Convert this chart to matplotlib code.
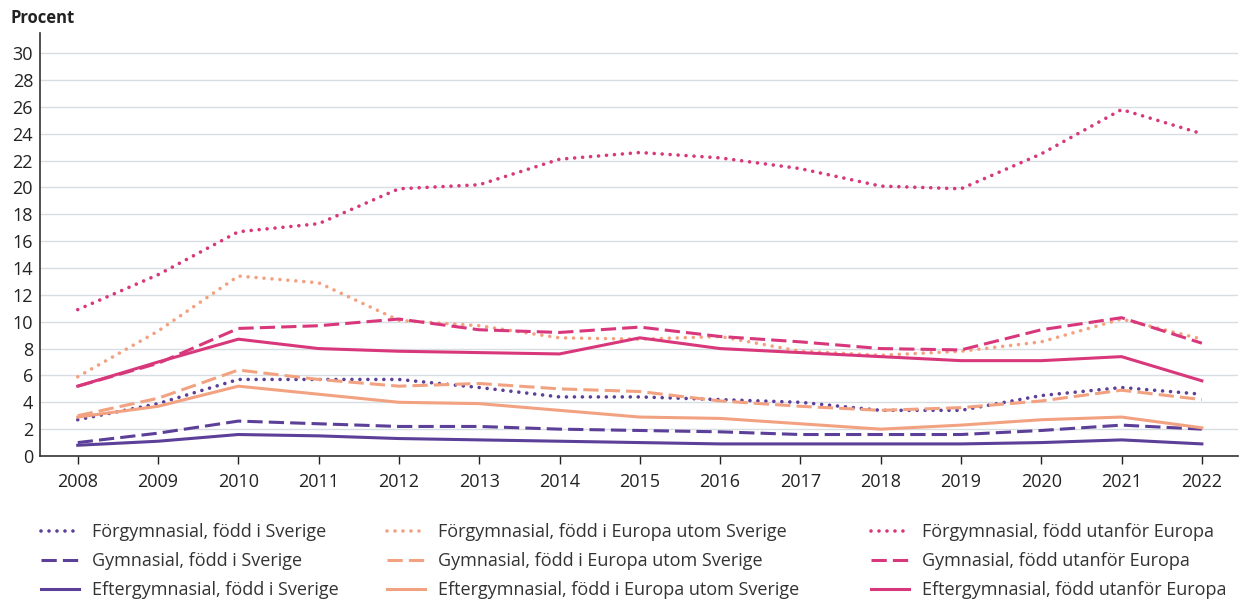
import matplotlib.pyplot as plt
from matplotlib.lines import Line2D

plt.rcParams['font.family'] = ['Open Sans', 'DejaVu Sans']

years = list(range(2008, 2023))

# Förgymnasial / Gymnasial / Eftergymnasial, per födelseregion
forg_sverige = [2.7, 3.9, 5.7, 5.7, 5.7, 5.1, 4.4, 4.4, 4.2, 4.0, 3.4, 3.4, 4.5, 5.1, 4.6]
gym_sverige = [1.0, 1.7, 2.6, 2.4, 2.2, 2.2, 2.0, 1.9, 1.8, 1.6, 1.6, 1.6, 1.9, 2.3, 2.0]
efter_sverige = [0.8, 1.1, 1.6, 1.5, 1.3, 1.2, 1.1, 1.0, 0.9, 0.9, 0.9, 0.9, 1.0, 1.2, 0.9]

forg_europa = [5.9, 9.3, 13.4, 12.9, 10.1, 9.7, 8.8, 8.7, 8.9, 7.8, 7.5, 7.8, 8.5, 10.2, 8.7]
gym_europa = [3.0, 4.3, 6.4, 5.7, 5.2, 5.4, 5.0, 4.8, 4.1, 3.7, 3.4, 3.6, 4.1, 4.9, 4.2]
efter_europa = [2.9, 3.7, 5.2, 4.6, 4.0, 3.9, 3.4, 2.9, 2.8, 2.4, 2.0, 2.3, 2.7, 2.9, 2.1]

forg_utanfor = [10.9, 13.5, 16.7, 17.3, 19.9, 20.2, 22.1, 22.6, 22.2, 21.4, 20.1, 19.9, 22.5, 25.8, 24.0]
gym_utanfor = [5.2, 6.9, 9.5, 9.7, 10.2, 9.4, 9.2, 9.6, 8.9, 8.5, 8.0, 7.9, 9.4, 10.3, 8.4]
efter_utanfor = [5.2, 7.0, 8.7, 8.0, 7.8, 7.7, 7.6, 8.8, 8.0, 7.7, 7.4, 7.1, 7.1, 7.4, 5.6]

lila = '#5c3f98'
orange = '#f2a281'
rosa = '#d8387b'

styles = {'forg': (0, (0.01, 2.2)), 'gym': (0, (5, 2)), 'efter': '-'}
widths = {'forg': 2.6, 'gym': 2.2, 'efter': 2.2}

grupper = [
    ('född i Sverige', lila, [forg_sverige, gym_sverige, efter_sverige]),
    ('född i Europa utom Sverige', orange, [forg_europa, gym_europa, efter_europa]),
    ('född utanför Europa', rosa, [forg_utanfor, gym_utanfor, efter_utanfor]),
]
niva = [('Förgymnasial', 'forg'), ('Gymnasial', 'gym'), ('Eftergymnasial', 'efter')]

fig = plt.figure(figsize=(12.42, 5.99), dpi=100)
ax = fig.add_axes([40 / 1242, 1 - 456 / 599, 1198 / 1242, 423 / 599])

legend_handles = []
for region, farg, serier in grupper:
    handles = []
    for (namn, key), vals in zip(niva, serier):
        cap = 'round' if key == 'forg' else 'butt'
        ax.plot(years, vals, color=farg, linestyle=styles[key], lw=widths[key],
                dash_capstyle=cap)
        handles.append((Line2D([], [], color=farg, linestyle=styles[key],
                               lw=widths[key], dash_capstyle=cap),
                        f'{namn}, {region}'))
    legend_handles.append(handles)

ax.set_xlim(2007.53, 2022.45)
ax.set_ylim(0, 31.5)
ax.set_yticks(range(0, 31, 2))
ax.set_xticks(years)
ax.grid(axis='y', color='#d7dde1', lw=1)
ax.set_axisbelow(True)
for s in ['top', 'right']:
    ax.spines[s].set_visible(False)
for s in ['left', 'bottom']:
    ax.spines[s].set_color('#333333')
    ax.spines[s].set_linewidth(1.2)
ax.tick_params(axis='y', length=0, labelsize=13, colors='#222222', pad=5)
ax.tick_params(axis='x', length=6, width=1, labelsize=13, colors='#222222', pad=6)

fig.text(10 / 1242, 1 - 18 / 599, 'Procent', fontsize=12, fontweight='bold',
         va='center', ha='left', color='#222222')

col_x = [41 / 1242, 387 / 1242, 871 / 1242]
for x, handles in zip(col_x, legend_handles):
    leg = fig.legend([h for h, _ in handles], [t for _, t in handles],
                     loc='upper left', bbox_to_anchor=(x, 1 - 523 / 599),
                     frameon=False, fontsize=13, handlelength=2.1,
                     handletextpad=0.7, labelspacing=0.62, borderaxespad=0,
                     borderpad=0)
    for t in leg.get_texts():
        t.set_color('#333333')

fig.savefig('out.png', dpi=100)
